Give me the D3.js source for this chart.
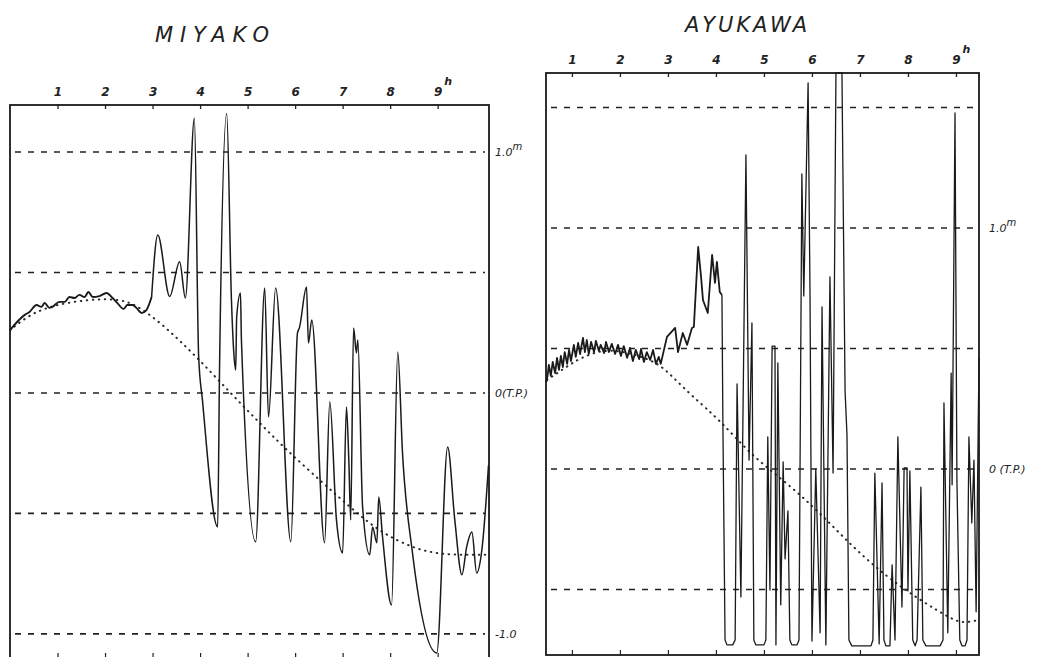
<!DOCTYPE html>
<html>
<head>
<meta charset="utf-8">
<script src="https://cdn.jsdelivr.net/npm/d3@7"></script>
<style>
  body { margin: 0; background: #fff; }
  text { font-family: "DejaVu Sans", "Liberation Sans", sans-serif; font-style: italic; fill: #222; }
</style>
</head>
<body>
<div id="chart"></div>
<script>
// hours after the start of the record
var hourTicks = [1, 2, 3, 4, 5, 6, 7, 8, 9];

// dashed reference levels (m)
var miyakoLevels = [1.0, 0.5, 0, -0.5, -1.0];
var ayukawaLevels = [1.5, 1.0, 0.5, 0, -0.5];

// level labels on the right side
var miyakoLabels = [[1.0, "1.0", "m"], [0, "0(T.P.)", ""], [-1.0, "-1.0", ""]];
var ayukawaLabels = [[1.0, "1.0", "m"], [0, "0 (T.P.)", ""]];

// [hour, metres]
var miyakoObserved = [
  [0, 0.261], [0.31, 0.324], [0.41, 0.336], [0.56, 0.365], [0.66, 0.357], [0.73, 0.373], [0.83, 0.353],
  [0.89, 0.357], [1.04, 0.378], [1.15, 0.378], [1.25, 0.398], [1.36, 0.394], [1.46, 0.407], [1.57, 0.398],
  [1.65, 0.419], [1.74, 0.398], [1.88, 0.402], [2.03, 0.415], [2.16, 0.394], [2.26, 0.373], [2.39, 0.349],
  [2.47, 0.365], [2.58, 0.365], [2.66, 0.353], [2.77, 0.332], [2.87, 0.344], [2.98, 0.398],
  [3.11, 0.656], [3.36, 0.40], [3.57, 0.544],
  [3.69, 0.394], [3.88, 1.14], [3.97, 0.15], [4.05, -0.03], [4.37, -0.556], [4.41, 0.108], [4.56, 1.16],
  [4.66, 0.386], [4.71, 0.166], [4.75, 0.095], [4.77, 0.315], [4.85, 0.415], [4.87, 0.22], [5.17, -0.618],
  [5.36, 0.436], [5.44, -0.10], [5.59, 0.436], [5.91, -0.618], [6.05, 0.249], [6.09, 0.27], [6.24, 0.44],
  [6.28, 0.207], [6.35, 0.303], [6.62, -0.622], [6.73, -0.037], [6.87, -0.527], [7.00, -0.664],
  [7.08, -0.058], [7.13, -0.278], [7.17, -0.527], [7.23, 0.27], [7.29, 0.166], [7.32, 0.22],
  [7.42, -0.473], [7.57, -0.672], [7.63, -0.556], [7.72, -0.622], [7.76, -0.432], [7.84, -0.598],
  [8.03, -0.88], [8.16, 0.17], [8.26, -0.249], [8.47, -0.664], [8.98, -1.079], [9.21, -0.224],
  [9.36, -0.527], [9.51, -0.755], [9.61, -0.639], [9.72, -0.577], [9.82, -0.747], [9.93, -0.651],
  [10.07, -0.30]
];

var miyakoPredicted = [
  [0, 0.26], [0.47, 0.336], [1.19, 0.378], [2.09, 0.394], [2.52, 0.378], [2.87, 0.336], [3.29, 0.27],
  [3.93, 0.149], [4.62, 0.004], [5.25, -0.124], [5.82, -0.237], [6.58, -0.373], [7.15, -0.473],
  [7.78, -0.577], [8.47, -0.643], [9.04, -0.672], [10.05, -0.672]
];

var ayukawaObserved = [
  [0.46, 0.36], [0.48, 0.369], [0.52, 0.432], [0.56, 0.386], [0.60, 0.444], [0.65, 0.398], [0.69, 0.461],
  [0.73, 0.411], [0.77, 0.469], [0.81, 0.423], [0.85, 0.485], [0.90, 0.436], [0.94, 0.494], [0.98, 0.448],
  [1.04, 0.515], [1.08, 0.465], [1.13, 0.523], [1.17, 0.477], [1.23, 0.544], [1.27, 0.485], [1.31, 0.535],
  [1.35, 0.477], [1.40, 0.527], [1.46, 0.485], [1.50, 0.531], [1.56, 0.490], [1.60, 0.515], [1.67, 0.481],
  [1.71, 0.527], [1.77, 0.485], [1.83, 0.519], [1.90, 0.477], [1.96, 0.515], [2.02, 0.469], [2.08, 0.510],
  [2.15, 0.461], [2.21, 0.502], [2.27, 0.448], [2.33, 0.494], [2.40, 0.456], [2.44, 0.498], [2.50, 0.444],
  [2.56, 0.485], [2.63, 0.452], [2.69, 0.494], [2.75, 0.436], [2.81, 0.465], [2.85, 0.436],
  [2.98, 0.548], [3.15, 0.585],
  [3.21, 0.485], [3.31, 0.564], [3.40, 0.515], [3.50, 0.585], [3.54, 0.589], [3.63, 0.921], [3.69, 0.797],
  [3.73, 0.701], [3.83, 0.647], [3.92, 0.888], [3.98, 0.772], [4.02, 0.859], [4.08, 0.734], [4.125, 0.722],
  [4.146, 0.162], [4.19, -0.71], [4.23, -0.73], [4.35, -0.73], [4.40, -0.71], [4.44, 0.353], [4.52, -0.531],
  [4.625, 1.303], [4.69, 0.037], [4.75, 0.606], [4.79, -0.71], [4.83, -0.73], [5.00, -0.73], [5.04, -0.71],
  [5.08, 0.133], [5.125, -0.502], [5.17, 0.51], [5.23, 0.51], [5.25, -0.73], [5.29, 0.44], [5.35, -0.564],
  [5.40, 0.029], [5.44, -0.373], [5.50, -0.174], [5.54, -0.71], [5.58, -0.73], [5.69, -0.73], [5.73, -0.71],
  [5.79, 1.224], [5.83, 0.718], [5.92, 1.602], [5.96, 0.718], [6.00, -0.714], [6.08, 0.0], [6.17, -0.68],
  [6.21, 0.672], [6.29, -0.73], [6.375, 0.797], [6.44, -0.017], [6.50, 1.643], [6.625, 1.643], [6.69, 0.324],
  [6.73, 0.141], [6.77, -0.71], [6.83, -0.734], [7.23, -0.734], [7.27, -0.71], [7.31, -0.017], [7.40, -0.726],
  [7.46, -0.058], [7.50, -0.71], [7.54, -0.734], [7.625, -0.734], [7.67, -0.398], [7.73, -0.71],
  [7.79, 0.133], [7.875, -0.573], [7.92, 0.004], [7.98, 0.004], [8.0, -0.506], [8.04, -0.008], [8.10, -0.71],
  [8.15, -0.734], [8.19, -0.71], [8.27, -0.075], [8.31, -0.71], [8.375, -0.734], [8.67, -0.734], [8.73, -0.71],
  [8.75, 0.274], [8.83, -0.68], [8.90, 0.398], [8.92, -0.066], [8.98, 1.477], [9.02, -0.046], [9.08, -0.71],
  [9.125, -0.734], [9.19, -0.734], [9.23, -0.71], [9.27, 0.133], [9.33, -0.224], [9.375, 0.037],
  [9.42, -0.593], [9.48, 0.461]
];

var ayukawaPredicted = [
  [0.48, 0.369], [0.85, 0.419], [1.17, 0.461], [1.73, 0.502], [2.35, 0.473], [2.79, 0.44], [3.10, 0.382],
  [3.52, 0.299], [4.08, 0.203], [4.77, 0.050], [5.48, -0.058], [6.17, -0.183], [6.85, -0.324],
  [7.56, -0.448], [8.25, -0.544], [8.94, -0.627], [9.15, -0.639], [9.48, -0.627]
];

var svg = d3.select("#chart").append("svg")
  .attr("width", 1038)
  .attr("height", 657);

function drawPanel(p) {
  var x = d3.scaleLinear().domain(p.hours).range([p.left, p.right]);
  var y = d3.scaleLinear().domain(p.levels).range([p.bottom, p.top]);
  var g = svg.append("g");

  // title
  g.append("text")
    .attr("x", p.titleX).attr("y", p.titleY)
    .attr("text-anchor", "middle")
    .attr("textLength", p.titleW).attr("lengthAdjust", "spacing")
    .style("font-size", "21px")
    .style("font-weight", 200)
    .text(p.title);

  // dashed reference levels
  g.selectAll(".lvl").data(p.lines).enter().append("line")
    .attr("class", "lvl")
    .attr("x1", p.left + 5).attr("x2", p.right - 4)
    .attr("y1", d => y(d)).attr("y2", d => y(d))
    .attr("stroke", "#222").attr("stroke-width", 1.6)
    .attr("stroke-dasharray", "6,7");

  // top hour axis
  var top = g.append("g").attr("transform", "translate(0," + p.top + ")")
    .call(d3.axisTop(x).tickValues(hourTicks).tickSizeInner(-4).tickSizeOuter(0).tickPadding(9));
  top.select(".domain").remove();
  top.selectAll("line").attr("stroke", "#222").attr("stroke-width", 1.3);
  top.selectAll("text")
    .style("font-size", "12px").style("font-weight", "bold").style("font-family", "DejaVu Sans")
    .attr("fill", "#222");
  top.selectAll(".tick").filter(d => d === 9).append("text")
    .attr("x", 10).attr("y", -20)
    .style("font-size", "11px").style("font-weight", "bold")
    .attr("fill", "#222").text("h");

  // bottom hour ticks
  var bot = g.append("g").attr("transform", "translate(0," + p.bottom + ")")
    .call(d3.axisBottom(x).tickValues(hourTicks).tickSizeInner(-5).tickSizeOuter(0).tickFormat(""));
  bot.select(".domain").remove();
  bot.selectAll("line").attr("stroke", "#222").attr("stroke-width", 1.2);

  // frame
  g.append("rect")
    .attr("x", p.left).attr("y", p.top)
    .attr("width", p.right - p.left).attr("height", p.bottom - p.top)
    .attr("fill", "none").attr("stroke", "#1a1a1a").attr("stroke-width", 1.8);

  // predicted tide, dotted
  var pred = d3.line().x(d => x(d[0])).y(d => y(d[1])).curve(d3.curveBasis);
  g.append("path").datum(p.predicted)
    .attr("d", pred)
    .attr("fill", "none").attr("stroke", "#2a2a2a").attr("stroke-width", 2)
    .attr("stroke-linecap", "round")
    .attr("stroke-dasharray", "0.5,5.5");

  // observed record, the calm early part is traced heavier
  var obs = d3.line().x(d => x(d[0])).y(d => y(d[1])).curve(p.curve);
  var early = p.observed.filter(d => d[0] <= p.heavyUntil);
  var late = p.observed.filter(d => d[0] >= early[early.length - 1][0]);
  g.append("path").datum(early)
    .attr("d", obs)
    .attr("fill", "none").attr("stroke", "#1a1a1a").attr("stroke-width", p.heavyW)
    .attr("stroke-linejoin", "round");
  g.append("path").datum(late)
    .attr("d", obs)
    .attr("fill", "none").attr("stroke", "#1a1a1a").attr("stroke-width", p.lineW)
    .attr("stroke-linejoin", "round");

  // level labels
  var lab = g.selectAll(".lab").data(p.labels).enter().append("text")
    .attr("class", "lab")
    .attr("x", p.right + p.labelDx).attr("y", d => y(d[0]) + 4)
    .style("font-size", "11px");
  lab.append("tspan").text(d => d[1]);
  lab.append("tspan").attr("dy", -6).style("font-size", "10px").text(d => d[2]);
}

drawPanel({
  title: "MIYAKO", titleX: 212, titleY: 42, titleW: 114,
  hours: [0, 10.08], levels: [-1.1, 1.195],
  left: 10, right: 489, top: 105, bottom: 658,
  lines: miyakoLevels, labels: miyakoLabels, labelDx: 6,
  observed: miyakoObserved, predicted: miyakoPredicted,
  curve: d3.curveMonotoneX, heavyUntil: 3.0, heavyW: 1.9, lineW: 1.5
});

drawPanel({
  title: "AYUKAWA", titleX: 746, titleY: 32, titleW: 122,
  hours: [0.46, 9.48], levels: [-0.772, 1.643],
  left: 546, right: 979, top: 73, bottom: 655,
  lines: ayukawaLevels, labels: ayukawaLabels, labelDx: 10,
  observed: ayukawaObserved, predicted: ayukawaPredicted,
  curve: d3.curveLinear, heavyUntil: 4.125, heavyW: 1.8, lineW: 1.3
});
</script>
</body>
</html>
